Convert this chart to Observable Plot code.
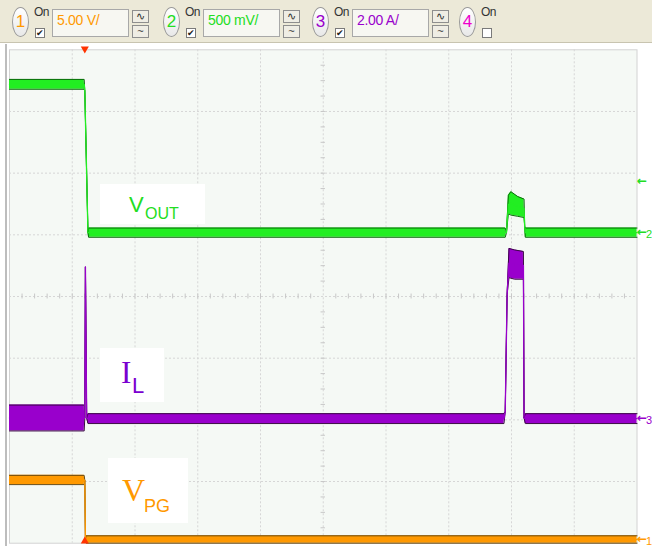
<!DOCTYPE html>
<html>
<head>
<meta charset="utf-8">
<script src="https://cdn.jsdelivr.net/npm/d3@7"></script>
<script src="https://cdn.jsdelivr.net/npm/@observablehq/plot@0.6"></script>
<style>
  html, body { margin: 0; padding: 0; background: #ffffff; }
  #page { position: relative; width: 652px; height: 549px; overflow: hidden; background: #ffffff; font-family: "Liberation Sans", Arial, sans-serif; }
  #bar { position: absolute; left: 0; top: 0; width: 652px; height: 42px; background: #ECE9D8; border-bottom: 1px solid #C8C4B0; }
  .chip { position: absolute; top: 7px; width: 15px; height: 28px; border-radius: 50%; border: 1px solid #9A9A9A; background: linear-gradient(#ffffff, #e8e8e8); text-align: center; font-size: 17px; line-height: 28px; font-family: "Liberation Sans Narrow", "Liberation Sans", Arial, sans-serif; }
  .on { position: absolute; top: 5px; font-size: 12px; color: #333; font-family: "Liberation Sans Narrow", "Liberation Sans", Arial, sans-serif; letter-spacing: -0.5px; }
  .cb { position: absolute; top: 28px; width: 8px; height: 8px; border: 1px solid #7A7A7A; background: #fff; font-size: 9px; line-height: 8px; text-align: center; color: #222; }
  .field { position: absolute; top: 9px; width: 77px; height: 28px; border: 1px solid #A8A8A8; background: #F7F7F2; box-sizing: border-box; font-family: "Liberation Sans Narrow", "Liberation Sans", Arial, sans-serif; font-size: 14px; line-height: 20px; padding-left: 4px; letter-spacing: -0.3px; }
  .btn { position: absolute; width: 17px; height: 13px; border: 1px solid #8E8E8E; background: #EFEDE4; box-sizing: border-box; font-size: 11px; line-height: 11px; text-align: center; color: #333; }
  #plotwrap { position: absolute; left: 0; top: 43px; }
  #leftborder { position: absolute; left: 5px; top: 44px; width: 2px; height: 502px; background: #BDBDBD; }
  .lbl { position: absolute; background: #ffffff; }
  .lbl span { position: absolute; white-space: nowrap; }
</style>
</head>
<body>
<div id="page">
  <div id="bar"></div>
  <div id="leftborder"></div>
  <div id="plotwrap"></div>
</div>
<script>
// ---- channel settings (top bar) ----
const chNumbers   = ["1", "2", "3", "4"];
const chOn        = [true, true, true, false];
const chScaleText = ["5.00 V/", "500 mV/", "2.00 A/", ""];
const chColors    = ["#FF9900", "#22DD22", "#9900CC", "#EE00CC"];

// units per division for channels 1..3, and ground-marker position (divisions from bottom)
const unitsPerDiv = [5.0, 0.5, 2.0];
const groundDiv   = [0.06, 5.04, 2.03];
const triggerLevelDiv = 5.87;   // small green arrow on the right
const triggerTime = 1.2;        // divisions from left

// ---- traces: time (div), lower / upper envelope in channel units ----
// Channel 2: VOUT (V)
const voutT  = [0,    1.19, 1.20, 1.25, 1.26,  7.90,  7.92, 7.95, 7.99, 8.10, 8.20, 8.21, 8.22,  10];
const voutLo = [1.16, 1.16, 1.15, 0.00, -0.04, -0.04, 0.00, 0.15, 0.14, 0.13, 0.12, 0.05, -0.04, -0.04];
const voutHi = [1.24, 1.24, 1.15, 0.00, 0.035, 0.035, 0.00, 0.30, 0.33, 0.29, 0.27, 0.05, 0.035, 0.035];

// Channel 3: IL (A)
const ilT  = [0,     1.19,  1.20, 1.21, 1.23, 1.25,  7.88,  7.90, 7.93, 7.96, 8.05, 8.19, 8.20, 8.22,  10];
const ilLo = [-0.42, -0.42, 0.00, 4.90, 0.00, -0.18, -0.18, 0.20, 4.00, 4.55, 4.50, 4.50, 0.00, -0.18, -0.18];
const ilHi = [0.42,  0.42,  0.00, 4.90, 0.00, 0.14,  0.14,  0.20, 4.00, 5.50, 5.45, 5.40, 0.00, 0.14,  0.14];

// Channel 1: VPG (V)
const vpgT  = [0,    1.19, 1.20, 1.21, 1.22,  10];
const vpgLo = [4.45, 4.45, 4.80, 0.00, -0.30, -0.30];
const vpgHi = [5.20, 5.20, 4.80, 0.00, 0.30,  0.30];

// grid
const gridX = [1, 2, 3, 4, 5, 6, 7, 8, 9];
const gridY = [1, 2, 3, 4, 5, 6, 7];

// trace labels
const labelMain = ["V", "I", "V"];
const labelSub  = ["OUT", "L", "PG"];

// ---------- top bar ----------
const bar = document.getElementById("bar");
const groupX = [12, 163, 312, 459];
chNumbers.forEach((n, i) => {
  const gx = groupX[i];
  const chip = document.createElement("div");
  chip.className = "chip"; chip.style.left = gx + "px"; chip.style.color = chColors[i];
  chip.textContent = n; bar.appendChild(chip);
  const on = document.createElement("div");
  on.className = "on"; on.style.left = (gx + 22) + "px"; on.textContent = "On"; bar.appendChild(on);
  const cb = document.createElement("div");
  cb.className = "cb"; cb.style.left = (gx + 23) + "px"; cb.textContent = chOn[i] ? "✔" : ""; bar.appendChild(cb);
  if (chScaleText[i]) {
    const f = document.createElement("div");
    f.className = "field"; f.style.left = (gx + 40) + "px"; f.style.color = chColors[i];
    f.textContent = chScaleText[i]; bar.appendChild(f);
    const b1 = document.createElement("div");
    b1.className = "btn"; b1.style.left = (gx + 120) + "px"; b1.style.top = "10px"; b1.textContent = "∿"; bar.appendChild(b1);
    const b2 = document.createElement("div");
    b2.className = "btn"; b2.style.left = (gx + 120) + "px"; b2.style.top = "25px"; b2.textContent = "~"; bar.appendChild(b2);
  }
});

// ---------- plot ----------
function rows(T, Lo, Hi, ch) {
  return T.map((t, i) => ({
    t,
    lo: groundDiv[ch] + Lo[i] / unitsPerDiv[ch],
    hi: groundDiv[ch] + Hi[i] / unitsPerDiv[ch],
    mid: groundDiv[ch] + (Lo[i] + Hi[i]) / 2 / unitsPerDiv[ch]
  }));
}
const vout = rows(voutT, voutLo, voutHi, 1);
const il   = rows(ilT, ilLo, ilHi, 2);
const vpg  = rows(vpgT, vpgLo, vpgHi, 0);

function traceMarks(data, fill, edge) {
  return [
    Plot.areaY(data, {x: "t", y1: "lo", y2: "hi", fill: fill}),
    Plot.line(data, {x: "t", y: "hi", stroke: edge, strokeWidth: 1}),
    Plot.line(data, {x: "t", y: "lo", stroke: edge, strokeWidth: 1}),
    Plot.line(data, {x: "t", y: "mid", stroke: fill, strokeWidth: 1.3})
  ];
}

const xTicks = d3.range(0.2, 10, 0.2).filter(v => Math.abs(v - 5) > 0.05);
const yTicks = d3.range(0.25, 8, 0.25).filter(v => Math.abs(v - 4) > 0.05);
const markers = [
  {y: groundDiv[0], n: "1", c: chColors[0]},
  {y: groundDiv[1], n: "2", c: chColors[1]},
  {y: groundDiv[2], n: "3", c: chColors[2]}
];

const chart = Plot.plot({
  width: 652,
  height: 506,
  marginLeft: 9,
  marginRight: 15.5,
  marginTop: 6.3,
  marginBottom: 6.3,
  x: {domain: [0, 10], axis: null},
  y: {domain: [0, 8], axis: null},
  style: {background: "transparent", overflow: "visible"},
  marks: [
    Plot.frame({fill: "#F5F9F5", stroke: "#D2D2D2"}),
    Plot.ruleX(gridX, {stroke: "#D6D6D6", strokeDasharray: "2,2"}),
    Plot.ruleY(gridY, {stroke: "#D6D6D6", strokeDasharray: "2,2"}),
    Plot.ruleX(xTicks, {x: d => d, y1: 3.96, y2: 4.04, stroke: "#C8C8C8"}),
    Plot.ruleY(yTicks, {y: d => d, x1: 4.965, x2: 5.035, stroke: "#C8C8C8"}),
    ...traceMarks(vpg, "#FF9900", "#6A4A10"),
    ...traceMarks(il, "#9900CC", "#3A0844"),
    ...traceMarks(vout, "#22EE22", "#0B6A0B"),
    Plot.dot([triggerTime], {x: d => d, y: 8, symbol: "triangle", rotate: 180, r: 3, fill: "#FF3300", stroke: null, dy: -1}),
    Plot.dot([triggerTime], {x: d => d, y: 0, symbol: "triangle", r: 3, fill: "#FF3300", stroke: null, dy: -2}),
    // ground markers on the right edge: arrow + channel number
    Plot.text(markers, {x: 10, y: "y", text: () => "←", fill: "c", dx: 0, textAnchor: "start", fontSize: 12, fontWeight: "bold", fontFamily: "DejaVu Sans"}),
    Plot.text(markers, {x: 10, y: "y", text: "n", fill: "c", dx: 9, dy: 2, textAnchor: "start", fontSize: 11, fontFamily: "Liberation Sans Narrow, Liberation Sans"}),
    Plot.text([triggerLevelDiv], {x: 10, y: d => d, text: () => "←", fill: chColors[1], dx: 0, textAnchor: "start", fontSize: 12, fontWeight: "bold", fontFamily: "DejaVu Sans"})
  ]
});
document.getElementById("plotwrap").appendChild(chart);

// ---------- trace labels ----------
const page = document.getElementById("page");
const boxes = [
  {x: 100, y: 184, w: 105, h: 40, color: "#22DD22", mainFont: "Liberation Sans", mainSize: 22, subSize: 16, mx: 29, my: 10, sx: 45, sy: 22},
  {x: 100, y: 348, w: 64, h: 54, color: "#7A00D0", mainFont: "Liberation Serif", mainSize: 31, subSize: 22, mx: 21, my: 9, sx: 32, sy: 27},
  {x: 108, y: 458, w: 80, h: 65, color: "#FF9900", mainFont: "Liberation Serif", mainSize: 32, subSize: 18, mx: 14, my: 16, sx: 36, sy: 39}
];
boxes.forEach((b, i) => {
  const d = document.createElement("div");
  d.className = "lbl";
  Object.assign(d.style, {left: b.x + "px", top: b.y + "px", width: b.w + "px", height: b.h + "px"});
  const m = document.createElement("span");
  Object.assign(m.style, {left: b.mx + "px", top: b.my + "px", fontFamily: b.mainFont, fontSize: b.mainSize + "px", color: b.color, lineHeight: "1"});
  m.textContent = labelMain[i];
  const s = document.createElement("span");
  Object.assign(s.style, {left: b.sx + "px", top: b.sy + "px", fontFamily: "Liberation Sans", fontSize: b.subSize + "px", color: b.color, lineHeight: "1"});
  s.textContent = labelSub[i];
  d.appendChild(m); d.appendChild(s);
  page.appendChild(d);
});
</script>
</body>
</html>
